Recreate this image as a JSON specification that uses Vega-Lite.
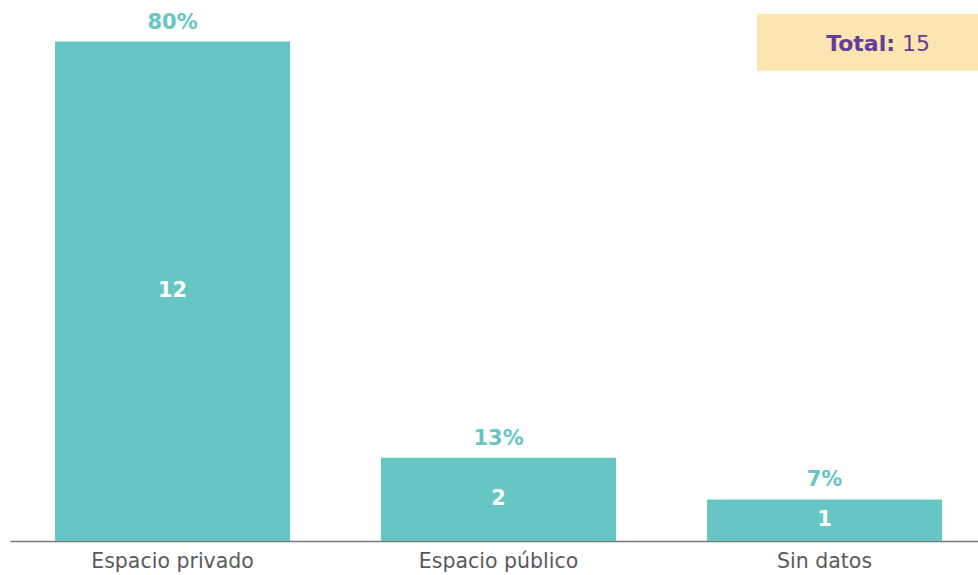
{
  "$schema": "https://vega.github.io/schema/vega-lite/v6.json",
  "width": 968,
  "height": 541,
  "autosize": "none",
  "padding": {"left": 10, "top": 0, "right": 0, "bottom": 34},
  "config": {"view": {"stroke": null}, "font": "DejaVu Sans"},
  "data": {
    "values": [
      {"categoria": "Espacio privado", "value": 12, "pct": "80%"},
      {"categoria": "Espacio público", "value": 2, "pct": "13%"},
      {"categoria": "Sin datos", "value": 1, "pct": "7%"}
    ]
  },
  "layer": [
    {
      "mark": {"type": "bar", "color": "#65C6C3"},
      "encoding": {
        "x": {
          "field": "categoria", "type": "nominal", "sort": null,
          "scale": {"paddingInner": 0.2791, "paddingOuter": 0.1242, "align": 0.556},
          "axis": {"title": null, "labelFontSize": 20.5, "labelColor": "#5a5a5a", "domainColor": "#777777", "domainWidth": 1.5, "ticks": false, "labelPadding": 10, "labelAngle": 0}
        },
        "y": {"field": "value", "type": "quantitative", "scale": {"domain": [0, 13]}, "axis": null}
      }
    },
    {
      "mark": {"type": "text", "dy": -19, "fontWeight": "bold", "fontSize": 21, "color": "#65C6C3", "baseline": "middle"},
      "encoding": {
        "x": {"field": "categoria", "type": "nominal", "sort": null},
        "y": {"field": "value", "type": "quantitative"},
        "text": {"field": "pct"}
      }
    },
    {
      "transform": [{"calculate": "datum.value / 2", "as": "mid"}],
      "mark": {"type": "text", "fontWeight": "bold", "fontSize": 21, "color": "white", "baseline": "middle"},
      "encoding": {
        "x": {"field": "categoria", "type": "nominal", "sort": null},
        "y": {"field": "mid", "type": "quantitative"},
        "text": {"field": "value"}
      }
    },
    {
      "data": {"values": [{"label": "Total:", "total": "15"}]},
      "layer": [
        {
          "mark": {"type": "rect", "color": "#FBE5B0"},
          "encoding": {
            "x": {"datum": "Sin datos", "bandPosition": 0.213},
            "x2": {"datum": "Sin datos", "bandPosition": 1.3},
            "y": {"datum": 11.3},
            "y2": {"datum": 12.67}
          }
        },
        {
          "mark": {"type": "text", "fontWeight": "bold", "fontSize": 22, "color": "#643C99", "align": "right", "baseline": "middle"},
          "encoding": {
            "x": {"datum": "Sin datos", "bandPosition": 0.8},
            "y": {"datum": 11.95},
            "text": {"field": "label"}
          }
        },
        {
          "mark": {"type": "text", "fontWeight": "normal", "fontSize": 22, "color": "#643C99", "align": "left", "baseline": "middle"},
          "encoding": {
            "x": {"datum": "Sin datos", "bandPosition": 0.83},
            "y": {"datum": 11.95},
            "text": {"field": "total"}
          }
        }
      ]
    }
  ]
}
